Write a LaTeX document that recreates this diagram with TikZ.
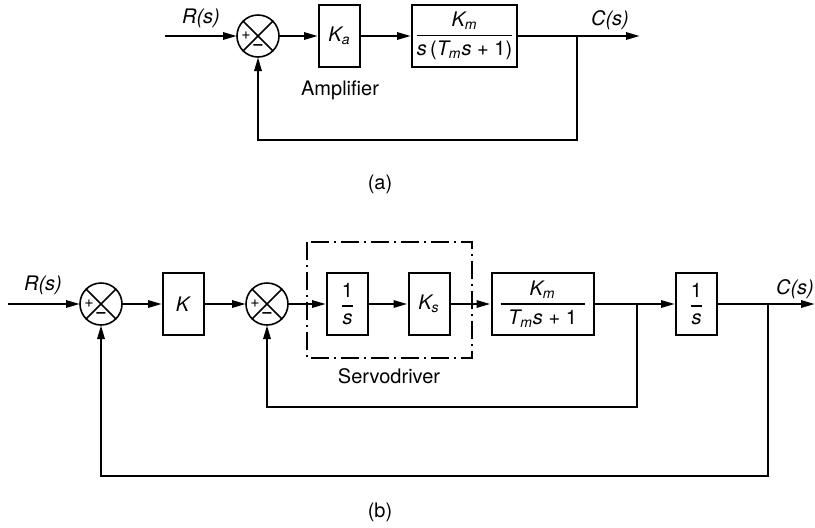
\documentclass[tikz,border=0pt]{standalone}
\usepackage{amsmath}
\usepackage{fontspec}
\setmainfont{TeX Gyre Heros}
\usepackage{tikz}
\usetikzlibrary{arrows.meta}

\newcommand{\tfr}[2]{\ensuremath{\genfrac{}{}{0.8pt}{0}{\text{#1}}{\text{#2}}}}

\begin{document}
\begin{tikzpicture}[
    >={Triangle[length=7pt,width=3.6pt]},
    x=0.5pt, y=-0.5pt,
    font=\fontsize{10}{12}\selectfont,
    block/.style={draw,line width=1pt,minimum width=20.5pt,minimum height=31pt,
                  inner sep=1pt},
    wide/.style={block,minimum width=51pt},
    sumj/.style={draw,circle,line width=0.8pt,minimum size=21pt,inner sep=0pt,
                 outer sep=0pt},
    sgn/.style={font=\fontsize{8}{9}\selectfont,inner sep=0pt},
    sig/.style={line width=1.2pt},
    servo/.style={line width=0.6pt,dash pattern=on 9pt off 2.5pt on 1pt off 2.5pt},
  ]
  \useasboundingbox (0,0) rectangle (815,527);

  % pixel grid of the page, y counted downward

  % --- (a) single loop ---
  \coordinate (ina)  at (165,36);
  \node[sumj]  (suma)  at (258,36) {};
  \node[block] (ampa)  at (339.5,36) {\textit{K\textsubscript{a}}};
  \node[wide,minimum width=52.5pt] (plnta) at (464.5,36)
       {\tfr{\textit{K\textsubscript{m}}}{\textit{s}\,(\textit{T\textsubscript{m}s} + 1)}};
  \coordinate (tapa) at (577,36);
  \coordinate (outa) at (640,36);

  \node (lblRa) at (201,18) {\textit{R(s)}};
  \node (lblCa) at (610,20) {\textit{C(s)}};
  \node (lblamp) at (340,90) {Amplifier};
  \node (capa) at (380,184) {(a)};

  % --- (b) servo with inner rate loop ---
  \coordinate (inb) at (8,304);
  \node[sumj]  (sum1)   at (101,304) {};
  \node[block] (gk)     at (183.5,304) {\textit{K}};
  \node[sumj]  (sum2)   at (267,304) {};
  \node[block] (integ)  at (347.5,304) {\tfr{1}{\textit{s}}};
  \node[block] (gks)    at (429,304) {\textit{K\textsubscript{s}}};
  \node[wide]  (motor)  at (542.5,304)
       {\tfr{\textit{K\textsubscript{m}}}{\makebox[42pt]{\textit{T\textsubscript{m}s} + 1}}};
  \coordinate (tapb1) at (637,304);
  \node[block] (outint) at (696.5,304) {\tfr{1}{\textit{s}}};
  \coordinate (tapb2) at (768,304);
  \coordinate (outb)  at (815,304);

  % dash-dot frame round the servodriver
  \draw[servo] (307,242) rectangle (472,358);

  \node (lblRb) at (43,285) {\textit{R(s)}};
  \node (lblCb) at (795,289) {\textit{C(s)}};
  \node (lblsrv) at (389,376) {Servodriver};
  \node (capb) at (380,512) {(b)};

  % --- crosses and signs of the summing points ---
  \foreach \s in {suma,sum1,sum2} {
    \draw[line width=0.8pt] (\s.north west) -- (\s.south east)
                            (\s.north east) -- (\s.south west);
    \node[sgn] (\s-p) at ([xshift=-6pt]\s.center) {+};
    \node[sgn] (\s-m) at ([yshift=-5.5pt]\s.center) {\textbf{--}};
  }

  % --- (a) edges ---
  \draw[sig,->] (ina) -- (suma);
  \draw[sig,->] (suma) -- (ampa);
  \draw[sig,->] (ampa) -- (plnta);
  \draw[sig,->] (plnta) -- (outa);
  \draw[sig,->] (tapa) -- ++(0,104) -| (suma);

  % --- (b) edges ---
  \draw[sig,->] (inb) -- (sum1);
  \draw[sig,->] (sum1) -- (gk);
  \draw[sig,->] (gk) -- (sum2);
  \draw[sig,->] (sum2) -- (integ);
  \draw[sig,->] (integ) -- (gks);
  \draw[sig,->] (gks) -- (motor);
  \draw[sig,->] (motor) -- (outint);
  \draw[sig,->] (outint) -- (outb);
  \draw[sig,->] (tapb1) -- ++(0,103) -| (sum2);   % rate loop
  \draw[sig,->] (tapb2) -- ++(0,172) -| (sum1);   % position loop

\end{tikzpicture}
\end{document}
